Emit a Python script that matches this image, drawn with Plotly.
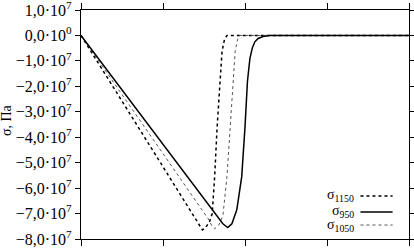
import plotly.graph_objects as go

# ---- data (x in arbitrary units 0..4, sigma in Pa) ----
x950 = [0, 1.0, 1.5, 1.65, 1.73, 1.79, 1.84, 1.90, 1.96, 2.00, 2.03, 2.06, 2.09, 2.12, 2.16, 2.22, 2.30, 4.0]
y950 = [0, -4.25e7, -6.4e7, -7.05e7, -7.4e7, -7.55e7, -7.4e7, -6.85e7, -5.55e7, -3.6e7, -1.8e7, -0.9e7, -0.48e7, -0.25e7, -0.12e7, -0.04e7, 0, 0]

x1150 = [0, 1.0, 1.30, 1.40, 1.45, 1.48, 1.52, 1.57, 1.60, 1.63, 1.66, 1.69, 1.72, 1.75, 1.78, 4.0]
y1150 = [0, -5.16e7, -6.7e7, -7.2e7, -7.5e7, -7.64e7, -7.55e7, -7.3e7, -7.0e7, -5.55e7, -3.6e7, -2.0e7, -0.63e7, -0.15e7, 0, 0]

x1050 = [0, 1.0, 1.45, 1.55, 1.60, 1.63, 1.68, 1.73, 1.78, 1.82, 1.85, 1.88, 1.91, 1.94, 4.0]
y1050 = [0, -4.66e7, -6.75e7, -7.2e7, -7.5e7, -7.6e7, -7.45e7, -7.1e7, -5.55e7, -3.6e7, -2.0e7, -0.63e7, -0.15e7, 0, 0]

ytick_vals = [1e7, 0, -1e7, -2e7, -3e7, -4e7, -5e7, -6e7, -7e7, -8e7]
ytick_text = ["1,0·10<sup>7</sup>", "0,0·10<sup>0</sup>", "−1,0·10<sup>7</sup>", "−2,0·10<sup>7</sup>",
              "−3,0·10<sup>7</sup>", "−4,0·10<sup>7</sup>", "−5,0·10<sup>7</sup>", "−6,0·10<sup>7</sup>",
              "−7,0·10<sup>7</sup>", "−8,0·10<sup>7</sup>"]
xtick_vals = [0, 1, 2, 3, 4]

legend_labels = ["σ<sub>1150</sub>", "σ<sub>950</sub>", "σ<sub>1050</sub>"]

FONT = "Liberation Serif"

fig = go.Figure()
fig.add_trace(go.Scatter(x=x1150, y=y1150, mode="lines",
                         line=dict(color="black", width=1.5, dash="dot"), showlegend=False))
fig.add_trace(go.Scatter(x=x1050, y=y1050, mode="lines",
                         line=dict(color="#555", width=1, dash="dot"), showlegend=False))
fig.add_trace(go.Scatter(x=x950, y=y950, mode="lines",
                         line=dict(color="black", width=1.5), showlegend=False))

# custom legend (text left of line sample)
leg_y = [0.188, 0.118, 0.061]
leg_styles = [dict(color="black", width=1.5, dash="dot"),
              dict(color="black", width=1.5),
              dict(color="#555", width=1, dash="dot")]
annotations = []
shapes = []
for lab, yy, st in zip(legend_labels, leg_y, leg_styles):
    annotations.append(dict(xref="paper", yref="paper", x=0.838, y=yy, text=lab, showarrow=False,
                            xanchor="right", yanchor="middle", font=dict(family=FONT, size=14, color="black")))
    shapes.append(dict(type="line", xref="paper", yref="paper", x0=0.852, x1=0.950, y0=yy, y1=yy, line=st))

annotations.append(dict(xref="paper", yref="paper", x=-0.225, y=0.52, text="σ, Па", showarrow=False,
                        textangle=-90, xanchor="center", yanchor="middle",
                        font=dict(family=FONT, size=14, color="black")))

fig.update_layout(
    width=414, height=249,
    margin=dict(l=81, r=5, t=10, b=10, autoexpand=False),
    plot_bgcolor="white", paper_bgcolor="white",
    font=dict(family=FONT, size=13, color="black"),
    annotations=annotations, shapes=shapes,
)
fig.update_xaxes(range=[0, 4], tickvals=xtick_vals, showticklabels=False, ticks="outside", ticklen=6,
                 showline=True, linecolor="black", linewidth=1.3, mirror="allticks", showgrid=False,
                 zeroline=False, tickcolor="black", automargin=False)
fig.update_yaxes(range=[-8e7, 1e7], tickvals=ytick_vals, ticktext=ytick_text, ticks="outside", ticklen=5,
                 showline=True, linecolor="black", linewidth=1.3, mirror="allticks", showgrid=False,
                 zeroline=False, tickcolor="black", tickfont=dict(family=FONT, size=16), automargin=False,
                 ticklabeloverflow="allow")

fig.write_html("out.html", config={"displayModeBar": False},
               post_script="document.body.style.margin='0';document.body.style.overflow='hidden';")
